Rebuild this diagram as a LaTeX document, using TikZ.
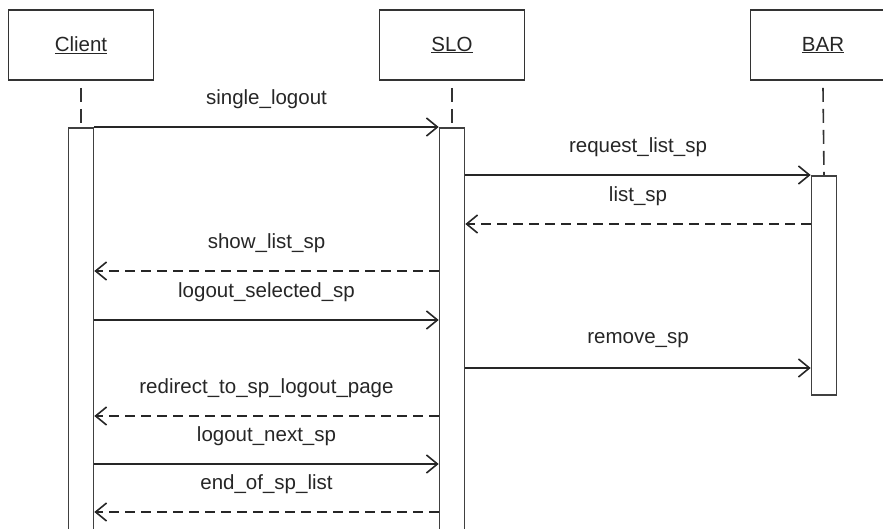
\documentclass[tikz,border=0pt]{standalone}
\usepackage{fontspec}
\setmainfont{Liberation Sans}
\usetikzlibrary{arrows.meta}
\tikzset{>={Straight Barb[length=11pt,width=18pt]}}

\begin{document}
\begin{tikzpicture}[x=1pt, y=-1pt,
    every node/.style={font=\fontsize{20.5}{24}\selectfont, text=black!85},
    actor/.style={draw=black!80, line width=1.6pt, minimum width=145pt, minimum height=70pt},
    actbar/.style={draw=black!75, line width=1.6pt, fill=white, minimum width=25pt, inner sep=0pt, anchor=north},
    life/.style={black!80, line width=1.6pt, dash pattern=on 14pt off 7pt},
    call/.style={->, line width=1.6pt, black!85},
    reply/.style={call, dash pattern=on 10pt off 6pt},
    msg/.style={midway, yshift=28pt}]
    \path[use as bounding box, clip] (0,0) rectangle (883,528);

    \node[actor] (client) at (81,45) {\underline{Client}};
    \node[actor] (slo) at (452,45) {\underline{SLO}};
    \node[actor] (bar) at (823,45) {\underline{BAR}};

    \node[actbar, minimum height=420pt] (cact) at (81,127) {};
    \node[actbar, minimum height=420pt] (sact) at (452,127) {};
    \node[actbar, minimum height=219pt] (bact) at (824,175) {};

    \draw[life] ([yshift=-7pt]client.south) -- (cact.north);
    \draw[life] ([yshift=-7pt]slo.south) -- (sact.north);
    \draw[life] ([yshift=-7pt]bar.south) -- (bact.north);

    \coordinate (m1) at (0,127);
    \coordinate (m2) at (0,175);
    \coordinate (m3) at (0,224);
    \coordinate (m4) at (0,271);
    \coordinate (m5) at (0,320);
    \coordinate (m6) at (0,368);
    \coordinate (m7) at (0,416);
    \coordinate (m8) at (0,464);
    \coordinate (m9) at (0,512);

    \draw[call] (cact.east |- m1) -- node[msg] {single\_logout} (sact.west |- m1);
    \draw[call] (sact.east |- m2) -- node[msg] {request\_list\_sp} (bact.west |- m2);
    \draw[reply] (bact.west |- m3) -- node[msg] {list\_sp} (sact.east |- m3);
    \draw[reply] (sact.west |- m4) -- node[msg] {show\_list\_sp} (cact.east |- m4);
    \draw[call] (cact.east |- m5) -- node[msg] {logout\_selected\_sp} (sact.west |- m5);
    \draw[call] (sact.east |- m6) -- node[msg] {remove\_sp} (bact.west |- m6);
    \draw[reply] (sact.west |- m7) -- node[msg] {redirect\_to\_sp\_logout\_page} (cact.east |- m7);
    \draw[call] (cact.east |- m8) -- node[msg] {logout\_next\_sp} (sact.west |- m8);
    \draw[reply] (sact.west |- m9) -- node[msg] {end\_of\_sp\_list} (cact.east |- m9);
\end{tikzpicture}
\end{document}
